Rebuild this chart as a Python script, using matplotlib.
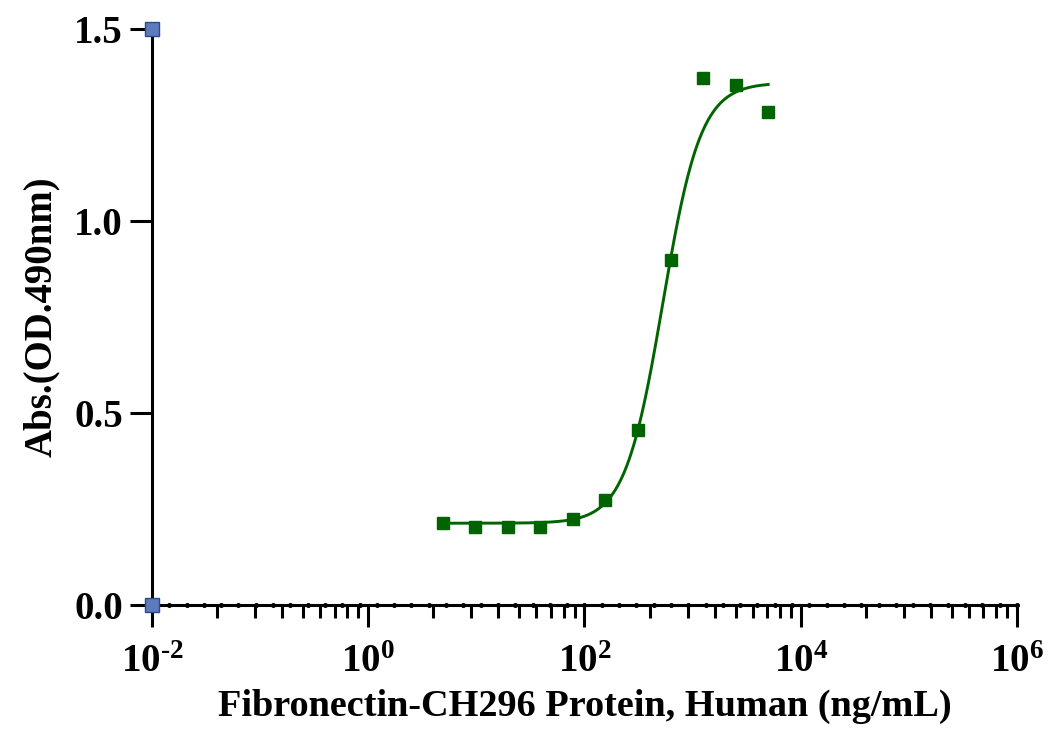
import numpy as np
import matplotlib
matplotlib.use('Agg')
import matplotlib.pyplot as plt
from matplotlib.ticker import FixedLocator, NullLocator

# measured points (2-fold dilution series)
conc = [5000, 2500, 1250, 625, 312.5, 156.25, 78.125, 39.06, 19.53, 9.77, 4.88]
od = [1.283, 1.354, 1.373, 0.898, 0.456, 0.273, 0.223, 0.204, 0.204, 0.204, 0.214]

# 4PL fit parameters
bottom, top, ec50, hill = 0.213, 1.36, 531.0, 2.47

x_label = 'Fibronectin-CH296 Protein, Human (ng/mL)'
y_label = 'Abs.(OD.490nm)'
y_ticks = [0.0, 0.5, 1.0, 1.5]
x_major = [1e-2, 1e0, 1e2, 1e4, 1e6]
x_tick_labels = ['$\\mathbf{10^{\u2010 2}}$', r'$\mathbf{10^{0}}$', r'$\mathbf{10^{2}}$',
                 r'$\mathbf{10^{4}}$', r'$\mathbf{10^{6}}$']

plt.rcParams['font.family'] = 'Liberation Serif'
plt.rcParams['font.weight'] = 'bold'
plt.rcParams['mathtext.fontset'] = 'custom'
plt.rcParams['mathtext.rm'] = 'Liberation Serif:bold'
plt.rcParams['mathtext.bf'] = 'Liberation Serif:bold'

fig = plt.figure(figsize=(10.59, 7.40), dpi=100)
ax = fig.add_axes([0.1435, 0.1824, 0.9603 - 0.1435, 0.9608 - 0.1824])

green = '#006400'

xc = np.logspace(np.log10(min(conc)), np.log10(max(conc)), 300)
yc = bottom + (top - bottom) / (1 + (ec50 / xc) ** hill)
ax.plot(xc, yc, color=green, lw=2.1, zorder=3)
ax.plot(conc, od, 's', color=green, ms=8.7, zorder=4, clip_on=False)

# dotted decoration along the x axis
dots = np.logspace(-2, 6, 51)
ax.plot(dots[1:], np.zeros(len(dots) - 1), 'o', color='black', ms=2.6, zorder=5, clip_on=False)

# blue corner squares
ax.plot([1e-2, 1e-2], [0.0, 1.5], 's', color='#5b7bbd', mec='#2a4a8a', mew=1.0,
        ms=10, zorder=6, clip_on=False)

ax.set_xscale('log')
ax.set_xlim(1e-2, 1e6)
ax.set_ylim(0, 1.5)

ax.xaxis.set_major_locator(FixedLocator(x_major))
ax.set_xticklabels(x_tick_labels)
minor = []
for m in [-2, 0, 2, 4]:
    for k in range(2, 10):
        minor.append(10 ** (m + 2 * np.log10(k)))
ax.xaxis.set_minor_locator(FixedLocator(minor))
ax.set_yticks(y_ticks)
ax.set_yticklabels(['0.0', '0.5', '1.0', '1.5'])
ax.yaxis.set_minor_locator(NullLocator())

for s in ['top', 'right']:
    ax.spines[s].set_visible(False)
for s in ['left', 'bottom']:
    ax.spines[s].set_linewidth(2.2)

ax.tick_params(axis='both', which='major', length=16, width=2.2, direction='out', labelsize=28)
ax.tick_params(axis='x', which='minor', length=9, width=2.2, direction='out')
ax.tick_params(axis='x', which='major', pad=12)
ax.tick_params(axis='y', which='major', pad=5)

ax.set_xlabel(x_label, fontsize=27.5, fontweight='bold', labelpad=6)
ax.set_ylabel(y_label, fontsize=28, fontweight='bold', labelpad=10)

fig.savefig('out.png', dpi=100)
